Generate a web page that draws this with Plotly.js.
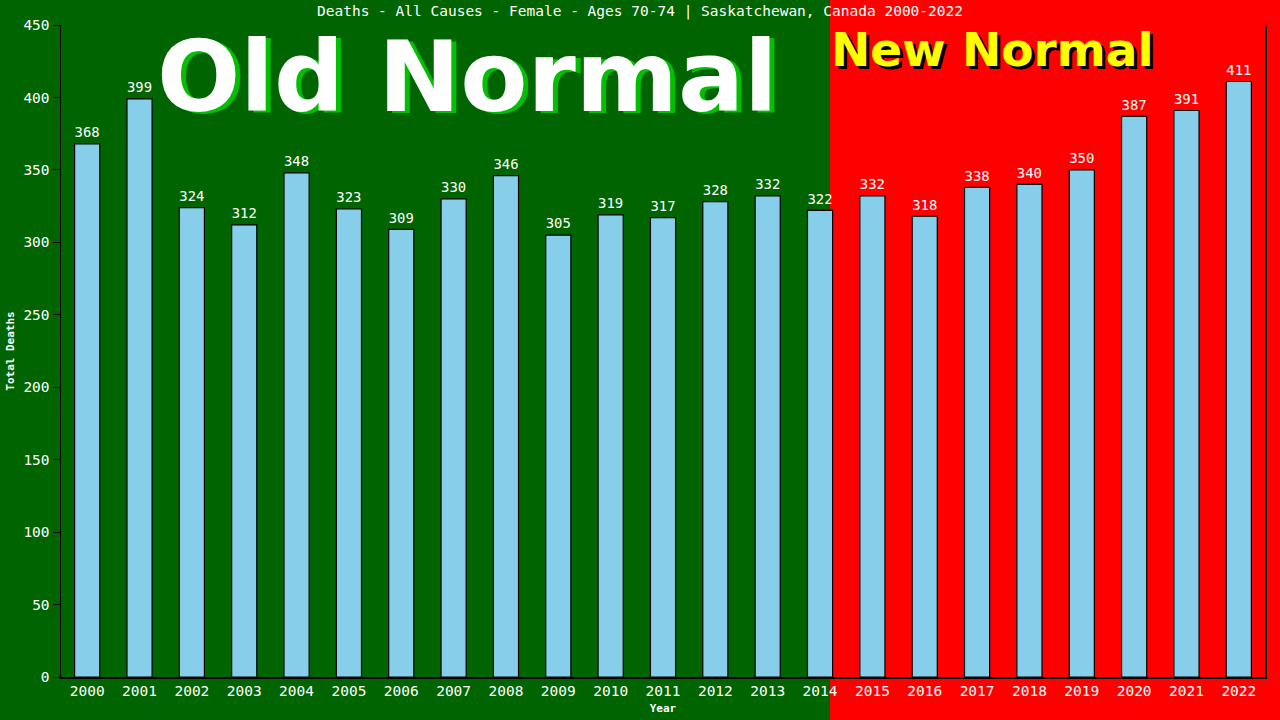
<!DOCTYPE html>
<html><head><meta charset="utf-8">
<script src="https://cdn.plot.ly/plotly-3.0.1.min.js"></script>
<style>html,body{margin:0;padding:0;background:#006400;}#chart{width:1280px;height:720px;}</style>
</head><body><div id="chart"></div>
<script>
const years = ["2000","2001","2002","2003","2004","2005","2006","2007","2008","2009","2010","2011","2012","2013","2014","2015","2016","2017","2018","2019","2020","2021","2022"];
const deaths = [368,399,324,312,348,323,309,330,346,305,319,317,328,332,322,332,318,338,340,350,387,391,411];
const yTicks = [0,50,100,150,200,250,300,350,400,450];
const titleText = "Deaths - All Causes - Female - Ages 70-74 | Saskatchewan, Canada 2000-2022";
const oldLabel = "Old Normal";
const newLabel = "New Normal";

const mono = "DejaVu Sans Mono, monospace";
const trace = {
  type: "bar", x: years, y: deaths,
  marker: {color: "#87CEEB", line: {color: "#000000", width: 1.2}},
  text: deaths.map(String), textposition: "outside", cliponaxis: false,
  textfont: {color: "#ffffff", family: mono, size: 15},
  hoverinfo: "skip"
};
const layout = {
  width: 1280, height: 720,
  paper_bgcolor: "#006400", plot_bgcolor: "rgba(0,0,0,0)",
  margin: {l: 61, r: 15, t: 25, b: 43},
  bargap: 0.52, showlegend: false,
  title: {text: titleText, x: 0.5, xanchor: "center", y: 0.985, yanchor: "middle",
          font: {family: mono, size: 14.5, color: "#ffffff"}},
  xaxis: {type: "category", showgrid: false, zeroline: false,
          showline: true, linecolor: "#000000", linewidth: 1.5, ticks: "",
          tickfont: {family: mono, size: 14.5, color: "#ffffff"},
          title: {text: "Year", standoff: 6, font: {family: mono, size: 11, color: "#ffffff", weight: "bold"}}},
  yaxis: {range: [0, 450], tickvals: yTicks, showgrid: false, zeroline: false,
          showline: true, mirror: true, linecolor: "#000000", linewidth: 1.5,
          ticks: "outside", ticklen: 7, tickcolor: "#000000",
          tickfont: {family: mono, size: 14.5, color: "#ffffff"},
          title: {text: "Total Deaths", standoff: 6, font: {family: mono, size: 11, color: "#ffffff", weight: "bold"}}},
  shapes: [{type: "rect", xref: "paper", yref: "paper", x0: 0.6387, x1: 1.02, y0: -0.08, y1: 1.05,
            fillcolor: "#ff0000", line: {width: 0}, layer: "below"}],
  annotations: [
    {text: oldLabel, xref: "paper", yref: "paper", x: 0.338, y: 0.921, xanchor: "center", yanchor: "middle",
     showarrow: false, font: {family: "DejaVu Sans, sans-serif", size: 98, color: "#ffffff", weight: "bold",
     shadow: "5px 2px 0px #00c000"}},
    {text: newLabel, xref: "paper", yref: "paper", x: 0.7735, y: 0.962, xanchor: "center", yanchor: "middle",
     showarrow: false, font: {family: "DejaVu Sans, sans-serif", size: 47, color: "#ffff00", weight: "bold",
     shadow: "3px 3px 0px #000000"}}
  ]
};
Plotly.newPlot("chart", [trace], layout, {displayModeBar: false, staticPlot: true});
</script></body></html>
